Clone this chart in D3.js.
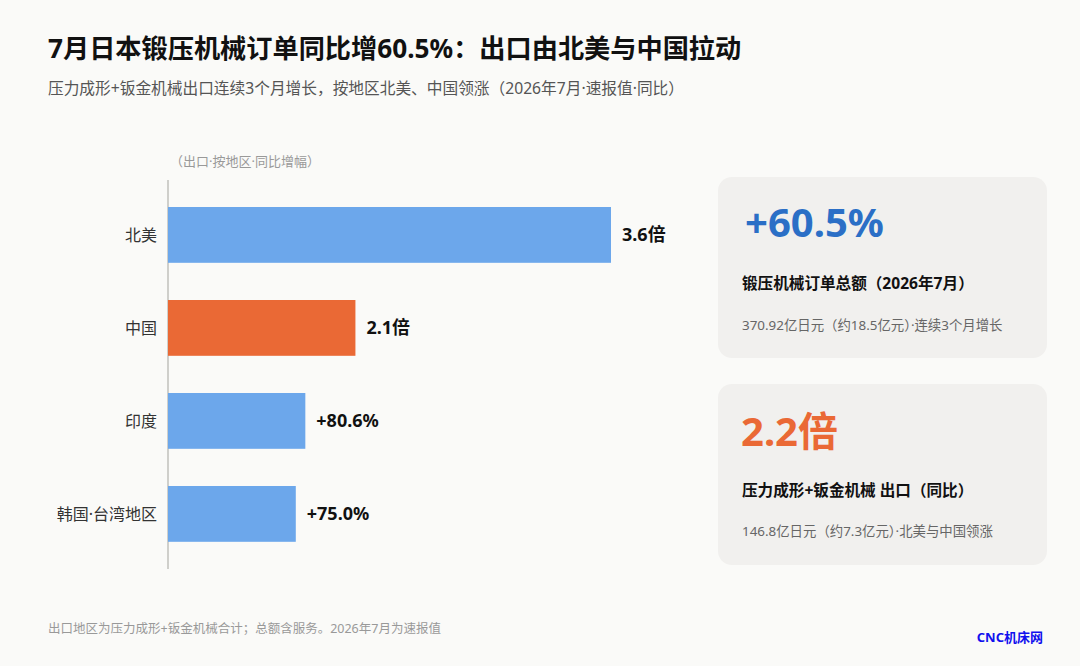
<!DOCTYPE html>
<html><head><meta charset="utf-8">
<script src="https://cdn.jsdelivr.net/npm/d3@7"></script>
<style>
html,body{margin:0;padding:0;background:#fafaf8;}
svg{display:block;font-family:"Noto Sans","Noto Sans CJK SC",sans-serif;}
</style></head>
<body>
<svg id="c" width="1080" height="666"></svg>
<script>
const categories = ["北美","中国","印度","韩国·台湾地区"];
const growthPct = [260, 110, 80.6, 75.0];
const valueLabels = ["3.6倍","2.1倍","+80.6%","+75.0%"];
const highlight = ["中国"];

const cardBig = ["+60.5%","2.2倍"];
const cardTitle = ["锻压机械订单总额（2026年7月）","压力成形+钣金机械 出口（同比）"];
const cardSub = ["370.92亿日元（约18.5亿元）·连续3个月增长","146.8亿日元（约7.3亿元）·北美与中国领涨"];

const svg = d3.select("#c");
svg.append("rect").attr("width",1080).attr("height",666).attr("fill","#fafaf8");

svg.append("text").attr("x",48).attr("y",58).attr("font-size",26.2).attr("font-weight",700)
  .attr("fill","#111").text("7月日本锻压机械订单同比增60.5%：出口由北美与中国拉动");
svg.append("text").attr("x",48).attr("y",94).attr("font-size",15.7)
  .attr("fill","#555").text("压力成形+钣金机械出口连续3个月增长，按地区北美、中国领涨（2026年7月·速报值·同比）");

svg.append("text").attr("x",170).attr("y",166).attr("font-size",13)
  .attr("fill","#999").text("（出口·按地区·同比增幅）");

const x = d3.scaleLinear().domain([0,260]).range([168,611]);
const y = d3.scaleBand().domain(categories).range([169.8,579]).padding(0.4);

svg.append("line").attr("x1",168).attr("x2",168).attr("y1",180).attr("y2",569)
  .attr("stroke","#cfcfcb").attr("stroke-width",2);

const data = categories.map((c,i)=>({c, v:growthPct[i], l:valueLabels[i]}));

svg.selectAll("rect.bar").data(data).join("rect").attr("class","bar")
  .attr("x",x(0)).attr("y",d=>y(d.c)).attr("width",d=>x(d.v)-x(0)).attr("height",y.bandwidth())
  .attr("fill",d=>highlight.includes(d.c)?"#ea6935":"#6ca7eb");

svg.selectAll("text.cat").data(data).join("text").attr("class","cat")
  .attr("x",157).attr("y",d=>y(d.c)+y.bandwidth()/2).attr("dy","0.35em")
  .attr("text-anchor","end").attr("font-size",16).attr("fill","#333").text(d=>d.c);

svg.selectAll("text.val").data(data).join("text").attr("class","val")
  .attr("x",d=>x(d.v)+11).attr("y",d=>y(d.c)+y.bandwidth()/2).attr("dy","0.35em")
  .attr("font-size",18).attr("font-weight",700).attr("fill","#111").text(d=>d.l);

// cards
const cards = [
  {y:177,h:181,color:"#2b6fc6",bigY:237,bigSize:40,titleY:289,subY:330,bx:745},
  {y:384,h:181,color:"#ea6935",bigY:446,bigSize:40,titleY:496,subY:536,bx:741}
];
cards.forEach((c,i)=>{
  svg.append("rect").attr("x",718).attr("y",c.y).attr("width",329).attr("height",c.h)
    .attr("rx",14).attr("fill","#f1f0ee");
  svg.append("text").attr("x",c.bx).attr("y",c.bigY).attr("font-size",c.bigSize).attr("font-weight",700)
    .attr("fill",c.color).text(cardBig[i]);
  svg.append("text").attr("x",742).attr("y",c.titleY).attr("font-size",15.6).attr("font-weight",700)
    .attr("fill","#111").text(cardTitle[i]);
  svg.append("text").attr("x",742).attr("y",c.subY).attr("font-size",13.4).attr("fill","#666").text(cardSub[i]);
});

svg.append("text").attr("x",48).attr("y",633).attr("font-size",12.5).attr("fill","#999")
  .text("出口地区为压力成形+钣金机械合计；总额含服务。2026年7月为速报值");
svg.append("text").attr("x",1043).attr("y",642).attr("text-anchor","end").attr("font-size",13)
  .attr("font-weight",700).attr("fill","#1010ee").text("CNC机床网");
</script>
</body></html>
